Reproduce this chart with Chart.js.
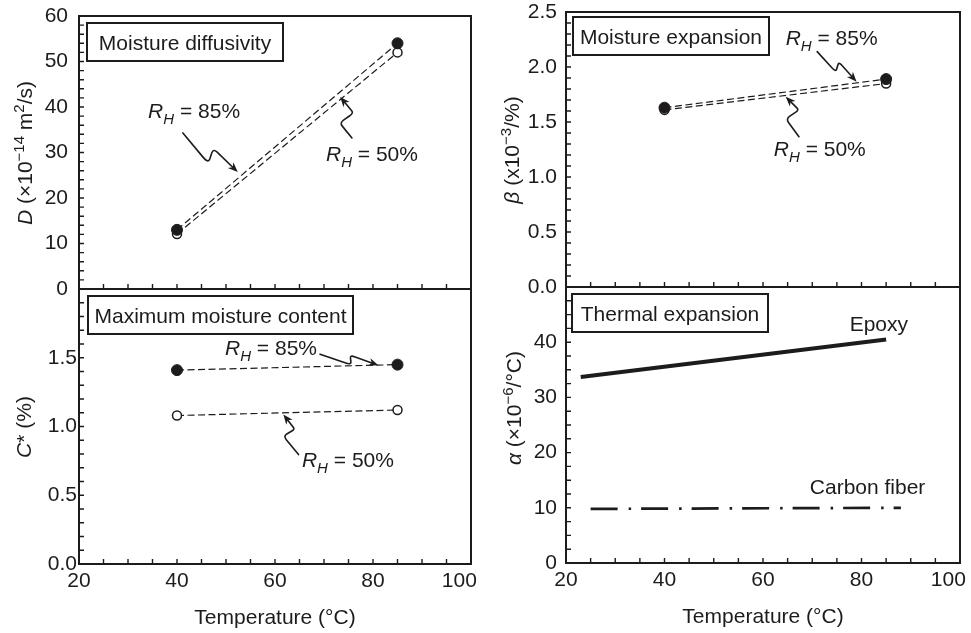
<!DOCTYPE html>
<html><head><meta charset="utf-8">
<script src="https://cdn.jsdelivr.net/npm/chart.js@4/dist/chart.umd.min.js"></script>
<style>
html,body{margin:0;padding:0;background:#fff}
body{width:971px;height:633px;overflow:hidden;position:relative}
canvas{position:absolute;left:0;top:0}
</style></head>
<body>
<canvas id="cTL" width="971" height="633"></canvas>
<canvas id="cBL" width="971" height="633"></canvas>
<canvas id="cTR" width="971" height="633"></canvas>
<canvas id="cBR" width="971" height="633"></canvas>
<script>
// ---------- data ----------
const temperatureC = [40, 85];
const diffusivityRH85 = [13.0, 54.0];
const diffusivityRH50 = [12.1, 52.0];
const expansionRH85 = [1.63, 1.89];
const expansionRH50 = [1.61, 1.85];
const moistureRH85 = [1.41, 1.45];
const moistureRH50 = [1.08, 1.12];
const epoxyTemperature = [23, 85];
const epoxyAlpha = [33.7, 40.5];
const carbonTemperature = [25, 88];
const carbonAlpha = [9.8, 10.0];
const xTickLabels = ['20', '40', '60', '80', '100\u2007\u2007'];
const dTickLabels = ['0', '10', '20', '30', '40', '50', '60'];
const cTickLabels = ['0.0', '0.5', '1.0', '1.5', ''];
const betaTickLabels = ['0.0', '0.5', '1.0', '1.5', '2.0', '2.5'];
const alphaTickLabels = ['0', '10', '20', '30', '40', ''];

// ---------- style helpers ----------
const FONT = '"Liberation Sans", Arial, Helvetica, sans-serif';
const INK = '#1e1b1c';
const W = 971, H = 633, YW = 60, XH = 67;
function fnt(size, italic) { return (italic ? 'italic ' : '') + size + 'px ' + FONT; }
function segFont(s) { return fnt(s.sub || s.sup ? 15 : 21, !!s.it); }
function richWidth(ctx, segs) {
  let w = 0;
  for (const s of segs) { ctx.font = segFont(s); w += ctx.measureText(s.t).width; }
  return w;
}
function drawRich(ctx, segs, x, y, align) {
  ctx.textBaseline = 'alphabetic';
  ctx.textAlign = 'left';
  if (align === 'center') x -= richWidth(ctx, segs) / 2;
  for (const s of segs) {
    ctx.font = segFont(s);
    const dy = s.sub ? 6 : (s.sup ? -8 : 0);
    ctx.fillText(s.t, x, y + dy);
    x += ctx.measureText(s.t).width;
  }
}
function rh(v) { return [{t: 'R', it: true}, {t: 'H', it: true, sub: true}, {t: ' = ' + v + '%'}]; }

function drawArrow(ctx, S, E, k) {
  const dx = E.x - S.x, dy = E.y - S.y, L = Math.hypot(dx, dy);
  const ux = dx / L, uy = dy / L, nx = -uy, ny = ux;
  const P = (t, o) => ({x: S.x + ux * t * L + nx * o * L, y: S.y + uy * t * L + ny * o * L});
  const A = P(k[0], k[1]), B = P(k[2], k[3]);
  const hx = E.x - B.x, hy = E.y - B.y, hl = Math.hypot(hx, hy);
  const hux = hx / hl, huy = hy / hl;
  const HL = 10, HW = 4;
  const bx = E.x - hux * HL, by = E.y - huy * HL;
  const T = {x: bx + hux * 3, y: by + huy * 3};
  ctx.save();
  ctx.strokeStyle = INK; ctx.fillStyle = INK; ctx.lineWidth = 1.6; ctx.lineJoin = 'round'; ctx.lineCap = 'round';
  // rounded polyline S -> A -> B -> T
  const mid = (p, q, f) => ({x: p.x + (q.x - p.x) * f, y: p.y + (q.y - p.y) * f});
  const a1 = mid(S, A, 0.8), a2 = mid(A, B, 0.3), b1 = mid(A, B, 0.7), b2 = mid(B, T, 0.2);
  ctx.beginPath();
  ctx.moveTo(S.x, S.y); ctx.lineTo(a1.x, a1.y);
  ctx.quadraticCurveTo(A.x, A.y, a2.x, a2.y);
  ctx.lineTo(b1.x, b1.y);
  ctx.quadraticCurveTo(B.x, B.y, b2.x, b2.y);
  ctx.lineTo(T.x, T.y);
  ctx.stroke();
  ctx.beginPath();
  ctx.moveTo(E.x, E.y);
  ctx.lineTo(bx - huy * HW, by + hux * HW);
  ctx.lineTo(bx + hux * 3, by + huy * 3);
  ctx.lineTo(bx + huy * HW, by - hux * HW);
  ctx.closePath(); ctx.fill();
  ctx.restore();
}

const pts = (xs, ys) => xs.map((x, i) => ({x, y: ys[i]}));
const filledSeries = (data) => ({
  data, showLine: true, borderColor: INK, borderWidth: 1.2, borderDash: [7, 3.5],
  pointRadius: 5.5, pointBackgroundColor: INK, pointBorderColor: INK, pointBorderWidth: 1
});
const openSeries = (data) => ({
  data, showLine: true, borderColor: INK, borderWidth: 1.2, borderDash: [7, 3.5],
  pointRadius: 4.5, pointBackgroundColor: '#fff', pointBorderColor: INK, pointBorderWidth: 1.5
});

function makePanel(id, p) {
  const decor = {
    id: 'decor' + id,
    afterDraw(chart) {
      const ctx = chart.ctx, a = chart.chartArea;
      const xs = chart.scales.x, ys = chart.scales.y;
      ctx.save();
      // frame top & right
      ctx.strokeStyle = INK; ctx.lineWidth = 2;
      ctx.beginPath();
      ctx.moveTo(a.left - 1, a.top); ctx.lineTo(a.right, a.top); ctx.lineTo(a.right, a.bottom + 1);
      ctx.stroke();
      // inward ticks
      ctx.lineWidth = 1.4;
      ctx.beginPath();
      const nY = Math.round((p.y.max - p.y.min) / p.y.minor);
      for (let i = 1; i < nY; i++) {
        const py = ys.getPixelForValue(p.y.min + i * p.y.minor);
        ctx.moveTo(a.left, py); ctx.lineTo(a.left + 5, py);
      }
      const nX = Math.round((100 - 20) / 5);
      for (let i = 1; i < nX; i++) {
        const px = xs.getPixelForValue(20 + i * 5);
        ctx.moveTo(px, a.bottom); ctx.lineTo(px, a.bottom - 5);
      }
      ctx.stroke();
      // title box
      const bx = a.left + p.box.dx, by = a.top + p.box.dy;
      ctx.fillStyle = '#fff';
      ctx.fillRect(bx, by, p.box.w, 38);
      ctx.lineWidth = 2; ctx.strokeStyle = INK;
      ctx.strokeRect(bx, by, p.box.w, 38);
      ctx.fillStyle = INK; ctx.font = fnt(21, false); ctx.textAlign = 'center'; ctx.textBaseline = 'alphabetic';
      ctx.fillText(p.box.text, bx + p.box.w / 2, by + 27);
      // y title
      ctx.save();
      ctx.translate(p.yTitle.x, p.yTitle.y);
      ctx.rotate(-Math.PI / 2);
      drawRich(ctx, p.yTitle.segs, 0, 0, 'center');
      ctx.restore();
      // notes
      for (const n of p.notes) {
        ctx.fillStyle = INK;
        drawRich(ctx, n.segs, xs.getPixelForValue(n.x), ys.getPixelForValue(n.y), 'left');
        if (n.arrow) {
          const r = n.arrow;
          drawArrow(ctx,
            {x: xs.getPixelForValue(r.from[0]), y: ys.getPixelForValue(r.from[1])},
            {x: xs.getPixelForValue(r.to[0]), y: ys.getPixelForValue(r.to[1])}, r.kink);
        }
      }
      ctx.restore();
    }
  };
  return new Chart(document.getElementById(id), {
    type: 'scatter',
    data: {datasets: p.datasets},
    options: {
      responsive: false, animation: false, events: [],
      layout: {padding: {left: p.area.l - YW, right: W - p.area.r, top: p.area.t, bottom: H - p.area.b - XH}},
      plugins: {legend: {display: false}, tooltip: {enabled: false}},
      scales: {
        x: {
          type: 'linear', min: 20, max: 100,
          afterFit(s) { s.height = XH; s.paddingLeft = 0; s.paddingRight = 0; },
          grid: {display: false, drawTicks: false},
          border: {display: true, color: INK, width: 2},
          ticks: {display: p.xLabels, stepSize: 20, padding: 5, color: INK, maxRotation: 0, autoSkip: false,
            font: {family: FONT, size: 21}, callback: (v, i) => xTickLabels[i]},
          title: {display: p.xLabels, text: 'Temperature (°C)', color: INK, padding: {top: 0, bottom: 0},
            font: {family: FONT, size: 21}}
        },
        y: {
          type: 'linear', min: p.y.min, max: p.y.max,
          afterFit(s) { s.width = YW; s.paddingTop = 0; s.paddingBottom = 0; },
          grid: {display: false, drawTicks: false},
          border: {display: true, color: INK, width: 2},
          ticks: {stepSize: p.y.step, padding: p.y.pad, color: INK, autoSkip: false,
            font: {family: FONT, size: 21}, callback: (v, i) => p.y.labels[i]}
        }
      }
    },
    plugins: [decor]
  });
}

// Top-left: moisture diffusivity
makePanel('cTL', {
  area: {l: 79, t: 16, r: 471, b: 289},
  y: {min: 0, max: 60, step: 10, minor: 2, labels: dTickLabels, pad: 11},
  xLabels: false,
  datasets: [filledSeries(pts(temperatureC, diffusivityRH85)), openSeries(pts(temperatureC, diffusivityRH50))],
  box: {text: 'Moisture diffusivity', dx: 8, dy: 7, w: 196},
  yTitle: {x: 32, y: 153, segs: [{t: 'D', it: true}, {t: ' (×10'}, {t: '−14', sup: true}, {t: ' m'}, {t: '2', sup: true}, {t: '/s)'}]},
  notes: [
    {segs: rh(85), x: 34.1, y: 37.6, arrow: {from: [41.2, 34.3], to: [52.4, 25.7], kink: [0.57, 0.15, 0.5, -0.075]}},
    {segs: rh(50), x: 70.4, y: 28.2, arrow: {from: [75.7, 33.2], to: [73.3, 42.2], kink: [0.42, -0.18, 0.55, 0.2]}}
  ]
});

// Bottom-left: maximum moisture content
makePanel('cBL', {
  area: {l: 79, t: 289, r: 471, b: 564},
  y: {min: 0, max: 2, step: 0.5, minor: 0.1, labels: cTickLabels, pad: 2},
  xLabels: true,
  datasets: [filledSeries(pts(temperatureC, moistureRH85)), openSeries(pts(temperatureC, moistureRH50))],
  box: {text: 'Maximum moisture content', dx: 9, dy: 7, w: 265},
  yTitle: {x: 31, y: 427, segs: [{t: 'C', it: true}, {t: '* (%)'}]},
  notes: [
    {segs: rh(85), x: 49.8, y: 1.518, arrow: {from: [69.2, 1.526], to: [81.1, 1.445], kink: [0.55, 0.08, 0.5, -0.08]}},
    {segs: rh(50), x: 65.5, y: 0.708, arrow: {from: [64.8, 0.796], to: [61.7, 1.088], kink: [0.53, -0.18, 0.58, 0.13]}}
  ]
});

// Top-right: moisture expansion
makePanel('cTR', {
  area: {l: 566, t: 12, r: 960, b: 287},
  y: {min: 0, max: 2.5, step: 0.5, minor: 0.1, labels: betaTickLabels, pad: 9},
  xLabels: false,
  datasets: [filledSeries(pts(temperatureC, expansionRH85)), openSeries(pts(temperatureC, expansionRH50))],
  box: {text: 'Moisture expansion', dx: 7, dy: 5, w: 196},
  yTitle: {x: 519, y: 150, segs: [{t: 'β', it: true}, {t: ' (x10'}, {t: '−3', sup: true}, {t: '/%)'}]},
  notes: [
    {segs: rh(85), x: 64.6, y: 2.2, arrow: {from: [71.0, 2.14], to: [79.0, 1.866], kink: [0.55, 0.1, 0.47, -0.1]}},
    {segs: rh(50), x: 62.2, y: 1.194, arrow: {from: [67.3, 1.366], to: [64.6, 1.73], kink: [0.5, -0.16, 0.6, 0.2]}}
  ]
});

// Bottom-right: thermal expansion
makePanel('cBR', {
  area: {l: 566, t: 287, r: 960, b: 563},
  y: {min: 0, max: 50, step: 10, minor: 2.5, labels: alphaTickLabels, pad: 9},
  xLabels: true,
  datasets: [
    {data: pts(epoxyTemperature, epoxyAlpha), showLine: true, borderColor: INK, borderWidth: 4, pointRadius: 0},
    {data: pts(carbonTemperature, carbonAlpha), showLine: true, borderColor: INK, borderWidth: 2.7,
      borderDash: [27, 11, 2.5, 10], pointRadius: 0}
  ],
  box: {text: 'Thermal expansion', dx: 6, dy: 7, w: 196},
  yTitle: {x: 521, y: 408, segs: [{t: 'α', it: true}, {t: ' (×10'}, {t: '−6', sup: true}, {t: '/°C)'}]},
  notes: [
    {segs: [{t: 'Epoxy'}], x: 77.6, y: 42.0},
    {segs: [{t: 'Carbon fiber'}], x: 69.5, y: 12.5}
  ]
});
</script>
</body></html>
